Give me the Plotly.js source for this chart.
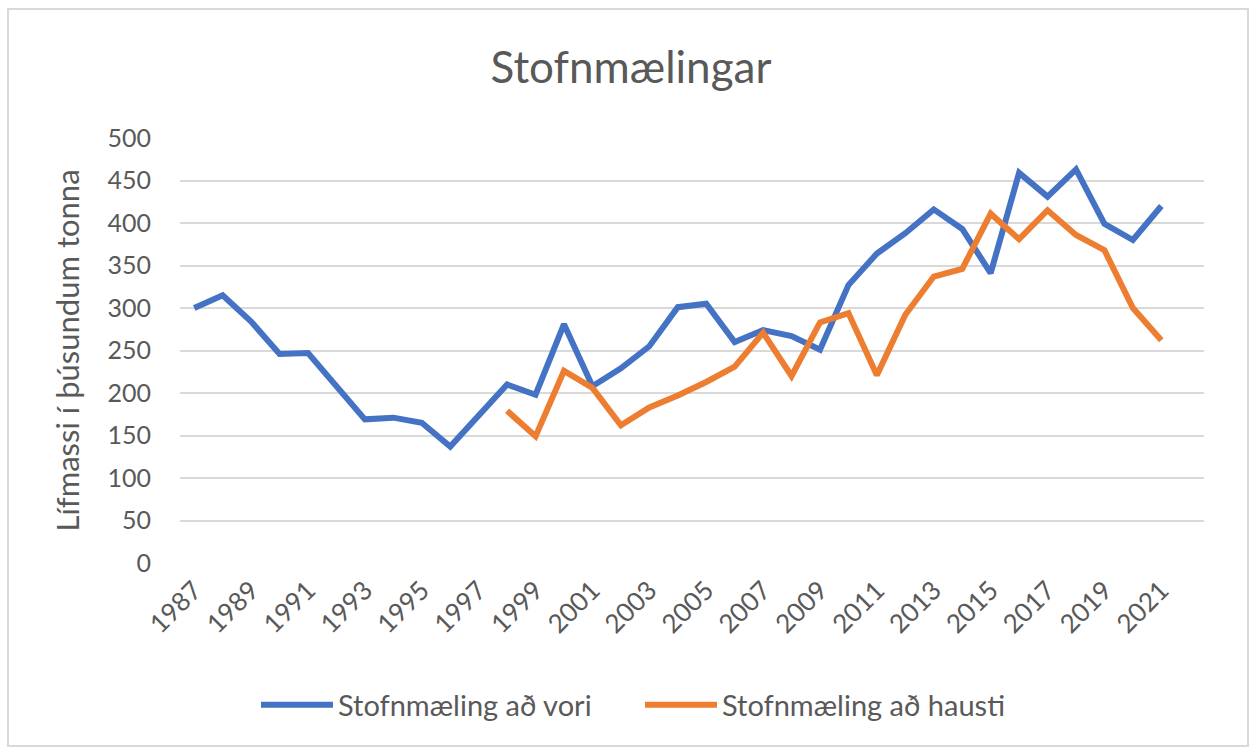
<!DOCTYPE html>
<html>
<head>
<meta charset="utf-8">
<script src="https://cdn.plot.ly/plotly-3.0.1.min.js"></script>
<style>
html,body{margin:0;padding:0;background:#fff;}
#wrap{position:relative;width:1251px;height:753px;}
#chart{width:1251px;height:753px;}
#frame{position:absolute;left:7px;top:8px;width:1238px;height:735px;border:2px solid #d9d9d9;pointer-events:none;}
</style>
</head>
<body>
<div id="wrap"><div id="chart"></div><div id="frame"></div></div>
<script>
const years = [1987,1988,1989,1990,1991,1992,1993,1994,1995,1996,1997,1998,1999,2000,2001,2002,2003,2004,2005,2006,2007,2008,2009,2010,2011,2012,2013,2014,2015,2016,2017,2018,2019,2020,2021];
const vorValues = [300,315,284,246,247,208,169,171,165,137,173,210,198,281,208,229,255,301,305,260,274,267,251,327,364,388,416,393,341,459,431,463,399,380,420];
const haustValues = [null,null,null,null,null,null,null,null,null,null,null,179,149,226,206,162,183,197,213,231,271,220,283,294,221,292,337,346,411,381,415,386,368,300,262];
const tickYears = [1987,1989,1991,1993,1995,1997,1999,2001,2003,2005,2007,2009,2011,2013,2015,2017,2019,2021];
const seriesNames = ['Stofnmæling að vori','Stofnmæling að hausti'];

const FONT = 'Lato, "Open Sans", sans-serif';
const GREY = '#595959';

const traces = [
  {x: years, y: vorValues, name: seriesNames[0], type: 'scatter', mode: 'lines',
   line: {color: '#4472C4', width: 6, shape: 'linear'}, connectgaps: false},
  {x: years, y: haustValues, name: seriesNames[1], type: 'scatter', mode: 'lines',
   line: {color: '#ED7D31', width: 6, shape: 'linear'}, connectgaps: false}
];

const layout = {
  width: 1251, height: 753,
  margin: {l: 180, r: 47, t: 138, b: 190},
  paper_bgcolor: '#ffffff', plot_bgcolor: '#ffffff',
  font: {family: FONT, color: GREY},
  title: {text: 'Stofnmælingar', font: {family: FONT, size: 44, color: GREY},
          x: 631/1251, xref: 'container', xanchor: 'center', y: 1 - 68/753, yref: 'container', yanchor: 'middle'},
  xaxis: {
    type: 'linear', range: [1986.5, 2022.5], tickmode: 'array', tickvals: tickYears,
    ticktext: tickYears.map(String), tickangle: -45, tickfont: {family: FONT, size: 26, color: GREY},
    showgrid: false, zeroline: false, showline: false, ticks: '', ticklabelstandoff: 6, fixedrange: true
  },
  yaxis: {
    range: [0, 500], tickmode: 'linear', tick0: 0, dtick: 50,
    tickfont: {family: FONT, size: 25, color: GREY},
    showgrid: true, gridcolor: '#d9d9d9', gridwidth: 2, zeroline: false, showline: false, ticks: '',
    ticklabelstandoff: 28,
    title: {text: 'Lífmassi í þúsundum tonna', font: {family: FONT, size: 31, color: GREY}, standoff: 18},
    fixedrange: true
  },
  showlegend: true,
  legend: {orientation: 'h', x: (263-180-7)/1024, xanchor: 'left', y: -(705-563)/425, yanchor: 'middle',
           font: {family: FONT, size: 29, color: GREY}, itemwidth: 72, entrywidth: 297, entrywidthmode: 'pixels',
           traceorder: 'normal'},
};

Plotly.newPlot('chart', traces, layout, {displayModeBar: false, staticPlot: true});
</script>
</body>
</html>
